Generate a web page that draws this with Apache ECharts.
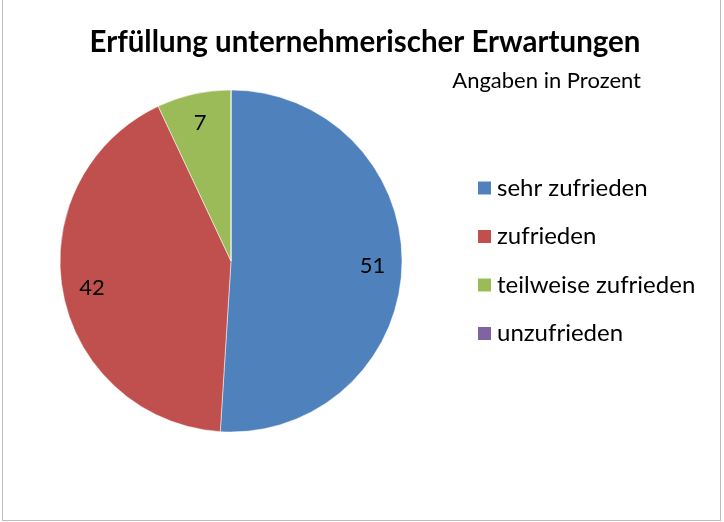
<!DOCTYPE html>
<html lang="de">
<head>
    <meta charset="UTF-8">
    <script src="https://cdn.jsdelivr.net/npm/echarts@6/dist/echarts.min.js"></script>
    <style>
        html, body { margin: 0; padding: 0; background: #fff; }
        #rahmen {
            position: absolute; left: 2px; top: -1px;
            width: 717px; height: 520px;
            border: 1px solid #bdbdbd;
        }
        #pic { position: absolute; left: 0; top: 0; width: 724px; height: 522px; }
    </style>
    <title>Erfüllung unternehmerischer Erwartungen</title>
</head>
<body>
<div id="rahmen"></div>
<div id="pic"></div>
<script type="text/javascript">
    // Daten
    var kategorien = ['sehr zufrieden', 'zufrieden', 'teilweise zufrieden', 'unzufrieden'];
    var werte = [51, 42, 7, 0];
    var farben = ['#4F81BD', '#C0504D', '#9BBB59', '#8064A2'];

    var font = 'Lato, "Open Sans", sans-serif';
    var daten = kategorien.map(function (k, i) {
        return { name: k, value: werte[i], itemStyle: { color: farben[i] } };
    });
    var datenRing = kategorien.map(function (k, i) {
        return { name: k, value: werte[i], itemStyle: { color: 'rgba(0,0,0,0)' } };
    });

    var myChart = echarts.init(document.getElementById('pic'));
    var option = {
        animation: false,
        title: [
            {
                text: 'Erfüllung unternehmerischer Erwartungen',
                left: 360, top: 22, textAlign: 'center',
                textStyle: { fontFamily: font, fontWeight: 'bold', fontSize: 29.5, color: '#000' }
            },
            {
                text: 'Angaben in Prozent',
                left: 636, top: 65, textAlign: 'right',
                textStyle: { fontFamily: font, fontWeight: 'normal', fontSize: 22, color: '#000' }
            }
        ],
        legend: {
            orient: 'vertical',
            left: 471, top: 171,
            icon: 'rect',
            itemWidth: 15, itemHeight: 15,
            itemGap: 24.5,
            data: kategorien,
            textStyle: { fontFamily: font, fontSize: 24, color: '#000', lineHeight: 24 }
        },
        series: [
            {
                type: 'pie',
                center: [231, 261],
                radius: [0, 171],
                startAngle: 90,
                clockwise: true,
                data: daten,
                label: { show: false },
                labelLine: { show: false },
                itemStyle: { borderColor: '#fff', borderWidth: 0.5 },
                emphasis: { disabled: true }
            },
            {
                // nur fuer die Beschriftung: Ring, damit die Zahlen weiter aussen sitzen
                type: 'pie',
                center: [231, 261],
                radius: [106, 171],
                startAngle: 90,
                clockwise: true,
                silent: true,
                data: datenRing,
                label: {
                    show: true,
                    position: 'inside',
                    fontFamily: font,
                    fontSize: 22,
                    color: '#000',
                    formatter: function (p) { return p.value ? String(p.value) : ''; }
                },
                labelLine: { show: false },
                emphasis: { disabled: true }
            }
        ]
    };
    option && myChart.setOption(option);
</script>
</body>
</html>
